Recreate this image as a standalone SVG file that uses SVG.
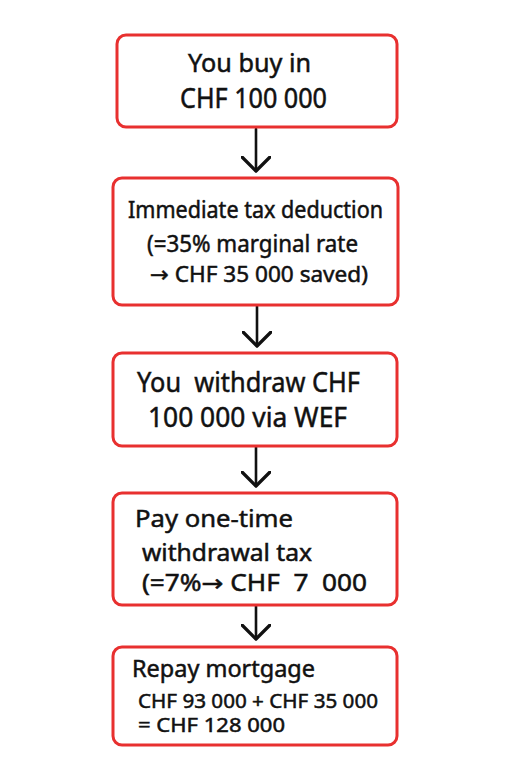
<svg xmlns="http://www.w3.org/2000/svg" width="512" height="768" viewBox="0 0 512 768">
<style>
.box{fill:#fff;stroke:#e8302f;stroke-width:3}
.t{font-family:"Noto Sans","Liberation Sans",sans-serif;fill:#111;stroke:#111;stroke-width:0.5}
.a{font-family:"DejaVu Sans",sans-serif}
.c{stroke:#111;stroke-width:2.6;fill:none;stroke-linecap:round}
</style>
<defs>
<marker id="ah" markerUnits="userSpaceOnUse" markerWidth="30" markerHeight="30" refX="12" refY="12" orient="auto" viewBox="0 0 24 24">
<path d="M1,1 L12,12 L1,23" fill="none" stroke="#111" stroke-width="2.6" stroke-linecap="round" stroke-linejoin="round"/>
</marker>
</defs>
<rect width="512" height="768" fill="#fff"/>
<g id="connectors">
<line class="c" x1="256" y1="129" x2="256" y2="171" marker-end="url(#ah)"/>
<line class="c" x1="257" y1="306" x2="257" y2="346" marker-end="url(#ah)"/>
<line class="c" x1="256" y1="447" x2="256" y2="486" marker-end="url(#ah)"/>
<line class="c" x1="256" y1="606" x2="256" y2="639" marker-end="url(#ah)"/>
</g>
<g id="n1">
<rect class="box" x="117" y="35" width="280" height="92" rx="9"/>
<text class="t" x="188" y="72" font-size="26" textLength="123" lengthAdjust="spacingAndGlyphs">You buy in</text>
<text class="t" x="180" y="108" font-size="27" textLength="147" lengthAdjust="spacingAndGlyphs">CHF 100 000</text>
</g>
<g id="n2">
<rect class="box" x="113" y="178" width="285" height="127" rx="9"/>
<text class="t" x="128" y="218" font-size="23" textLength="255" lengthAdjust="spacingAndGlyphs">Immediate tax deduction</text>
<text class="t" x="147" y="252" font-size="23" textLength="211" lengthAdjust="spacingAndGlyphs">(=35% marginal rate</text>
<text class="t" x="150" y="282" font-size="22" textLength="218" lengthAdjust="spacingAndGlyphs"><tspan class="a">→</tspan> CHF 35 000 saved)</text>
</g>
<g id="n3">
<rect class="box" x="113" y="353" width="284" height="93" rx="9"/>
<text class="t" x="137" y="392" font-size="28" textLength="223" lengthAdjust="spacingAndGlyphs" xml:space="preserve">You  withdraw CHF</text>
<text class="t" x="148" y="427" font-size="28" textLength="199" lengthAdjust="spacingAndGlyphs">100 000 via WEF</text>
</g>
<g id="n4">
<rect class="box" x="113" y="493" width="284" height="112" rx="9"/>
<text class="t" x="135" y="527" font-size="24" textLength="158" lengthAdjust="spacingAndGlyphs">Pay one-time</text>
<text class="t" x="142" y="561" font-size="23" textLength="170" lengthAdjust="spacingAndGlyphs">withdrawal tax</text>
<text class="t" x="142" y="591" font-size="23" textLength="225" lengthAdjust="spacingAndGlyphs" xml:space="preserve">(=7%<tspan class="a">→</tspan> CHF  7  000</text>
</g>
<g id="n5">
<rect class="box" x="113" y="647" width="284" height="98" rx="9"/>
<text class="t" x="132" y="677" font-size="23" textLength="183" lengthAdjust="spacingAndGlyphs">Repay mortgage</text>
<text class="t" x="138" y="708" font-size="19" textLength="240" lengthAdjust="spacingAndGlyphs">CHF 93 000 + CHF 35 000</text>
<text class="t" x="138" y="732" font-size="19" textLength="147" lengthAdjust="spacingAndGlyphs">= CHF 128 000</text>
</g>
</svg>
